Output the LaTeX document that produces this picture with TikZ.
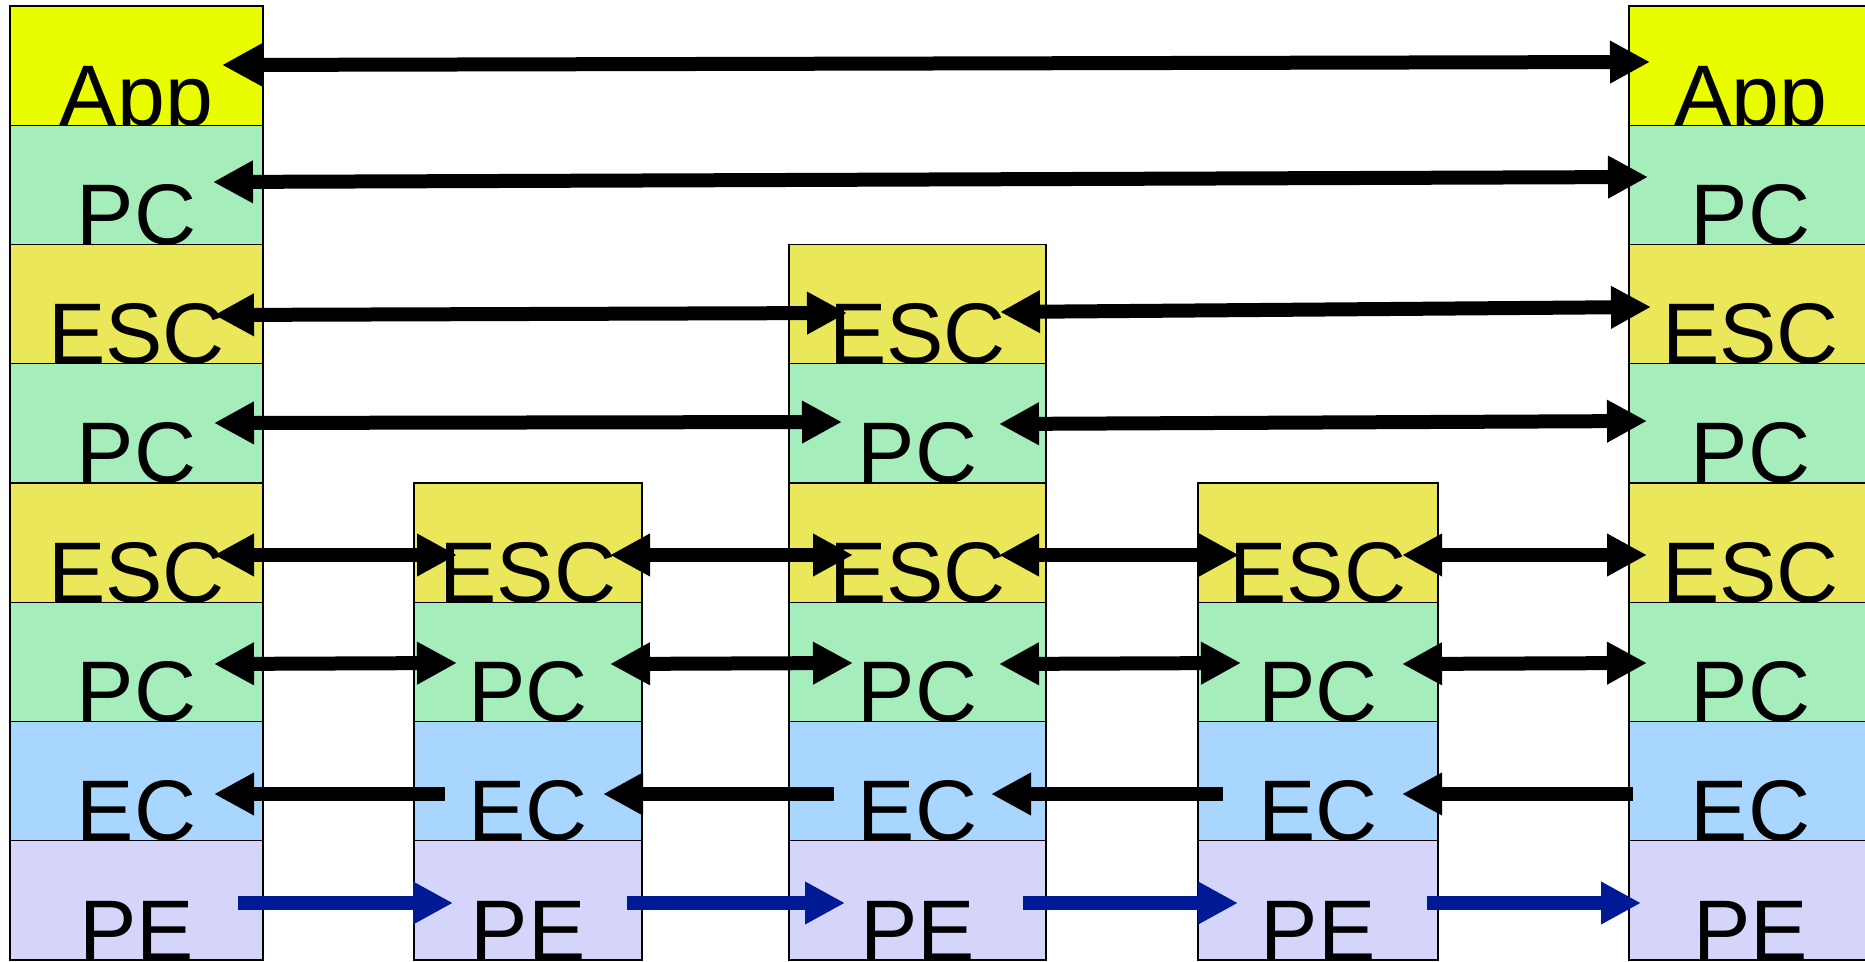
\documentclass[tikz,border=0pt]{standalone}
\usepackage{fontspec}
\setmainfont{Liberation Sans}
\usetikzlibrary{arrows.meta}

\definecolor{appyellow}{RGB}{234,252,0}
\definecolor{escyellow}{RGB}{234,231,91}
\definecolor{pcgreen}{RGB}{165,237,187}
\definecolor{ecblue}{RGB}{168,214,255}
\definecolor{pelilac}{RGB}{213,213,252}
\definecolor{peblue}{RGB}{0,26,150}

\tikzset{
  layerbox/.style={draw=black, line width=0.7pt, anchor=north west,
    inner sep=0pt, outer sep=0pt, minimum height=59.625pt},
  layerlabel/.style={anchor=base, inner sep=0pt,
    font=\fontsize{43}{43}\selectfont},
  tri/.tip={Triangle[length=20pt,width=20pt]},
  both/.style={line width=7pt, black, tri-tri},
  leftward/.style={line width=7pt, black, tri-},
  rightward/.style={line width=7pt, peblue, -tri},
}

% one protocol layer: name, left x, row index, width, fill, label
\newcommand\stacklayer[6]{%
  \node[layerbox, fill=#5, minimum width={#4*0.5pt}] (#1) at (#2,{6+#3*119.25}) {};
  \node[layerlabel] (#1-t) at (#1.south) {#6};
}

\begin{document}
\begin{tikzpicture}[x=0.5pt,y=-0.5pt]
\useasboundingbox (0,0) rectangle (1865,962);

% left end station
\stacklayer{a0}{10}{0}{253}{appyellow}{App}
\stacklayer{a1}{10}{1}{253}{pcgreen}{PC}
\stacklayer{a2}{10}{2}{253}{escyellow}{ESC}
\stacklayer{a3}{10}{3}{253}{pcgreen}{PC}
\stacklayer{a4}{10}{4}{253}{escyellow}{ESC}
\stacklayer{a5}{10}{5}{253}{pcgreen}{PC}
\stacklayer{a6}{10}{6}{253}{ecblue}{EC}
\stacklayer{a7}{10}{7}{253}{pelilac}{PE}

% first relay
\stacklayer{b4}{414}{4}{228}{escyellow}{ESC}
\stacklayer{b5}{414}{5}{228}{pcgreen}{PC}
\stacklayer{b6}{414}{6}{228}{ecblue}{EC}
\stacklayer{b7}{414}{7}{228}{pelilac}{PE}

% middle relay
\stacklayer{c2}{789}{2}{257}{escyellow}{ESC}
\stacklayer{c3}{789}{3}{257}{pcgreen}{PC}
\stacklayer{c4}{789}{4}{257}{escyellow}{ESC}
\stacklayer{c5}{789}{5}{257}{pcgreen}{PC}
\stacklayer{c6}{789}{6}{257}{ecblue}{EC}
\stacklayer{c7}{789}{7}{257}{pelilac}{PE}

% third relay
\stacklayer{d4}{1198}{4}{240}{escyellow}{ESC}
\stacklayer{d5}{1198}{5}{240}{pcgreen}{PC}
\stacklayer{d6}{1198}{6}{240}{ecblue}{EC}
\stacklayer{d7}{1198}{7}{240}{pelilac}{PE}

% right end station
\stacklayer{e0}{1629}{0}{243}{appyellow}{App}
\stacklayer{e1}{1629}{1}{243}{pcgreen}{PC}
\stacklayer{e2}{1629}{2}{243}{escyellow}{ESC}
\stacklayer{e3}{1629}{3}{243}{pcgreen}{PC}
\stacklayer{e4}{1629}{4}{243}{escyellow}{ESC}
\stacklayer{e5}{1629}{5}{243}{pcgreen}{PC}
\stacklayer{e6}{1629}{6}{243}{ecblue}{EC}
\stacklayer{e7}{1629}{7}{243}{pelilac}{PE}

% arrow end points
\coordinate (p0a) at (222,65);  \coordinate (p0e) at (1650,62);
\coordinate (p1a) at (213,182); \coordinate (p1e) at (1648,177);
\coordinate (p2a) at (214,315); \coordinate (p2cl) at (847,313);
\coordinate (p2cr) at (1000,312); \coordinate (p2e) at (1651,307);
\coordinate (p3a) at (214,423); \coordinate (p3cl) at (842,422);
\coordinate (p3cr) at (999,424); \coordinate (p3e) at (1647,421);

\coordinate (p4a) at (214,555);  \coordinate (p4bl) at (457,555);
\coordinate (p4br) at (610,555); \coordinate (p4cl) at (853,555);
\coordinate (p4cr) at (999,555); \coordinate (p4dl) at (1239,555);
\coordinate (p4dr) at (1402,555); \coordinate (p4e) at (1647,555);

\coordinate (p5a) at (214,664);  \coordinate (p5bl) at (457,663);
\coordinate (p5br) at (610,664); \coordinate (p5cl) at (853,663);
\coordinate (p5cr) at (999,664); \coordinate (p5dl) at (1241,663);
\coordinate (p5dr) at (1402,664); \coordinate (p5e) at (1647,663);

\coordinate (p6a) at (214,794);  \coordinate (p6bl) at (445,794);
\coordinate (p6br) at (603,794); \coordinate (p6cl) at (834,794);
\coordinate (p6cr) at (991,794); \coordinate (p6dl) at (1223,794);
\coordinate (p6dr) at (1402,794); \coordinate (p6e) at (1633,794);

\coordinate (p7a) at (238,903);  \coordinate (p7bl) at (453,903);
\coordinate (p7br) at (627,903); \coordinate (p7cl) at (845,903);
\coordinate (p7cr) at (1023,903); \coordinate (p7dl) at (1238,903);
\coordinate (p7dr) at (1427,903); \coordinate (p7e) at (1641,903);

% peer-to-peer exchanges
\draw[both] (p0a) -- (p0e);
\draw[both] (p1a) -- (p1e);
\draw[both] (p2a) -- (p2cl);
\draw[both] (p2cr) -- (p2e);
\draw[both] (p3a) -- (p3cl);
\draw[both] (p3cr) -- (p3e);

\draw[both] (p4a) -- (p4bl);
\draw[both] (p4br) -- (p4cl);
\draw[both] (p4cr) -- (p4dl);
\draw[both] (p4dr) -- (p4e);

\draw[both] (p5a) -- (p5bl);
\draw[both] (p5br) -- (p5cl);
\draw[both] (p5cr) -- (p5dl);
\draw[both] (p5dr) -- (p5e);

\draw[leftward] (p6a) -- (p6bl);
\draw[leftward] (p6br) -- (p6cl);
\draw[leftward] (p6cr) -- (p6dl);
\draw[leftward] (p6dr) -- (p6e);

\draw[rightward] (p7a) -- (p7bl);
\draw[rightward] (p7br) -- (p7cl);
\draw[rightward] (p7cr) -- (p7dl);
\draw[rightward] (p7dr) -- (p7e);
\end{tikzpicture}
\end{document}
